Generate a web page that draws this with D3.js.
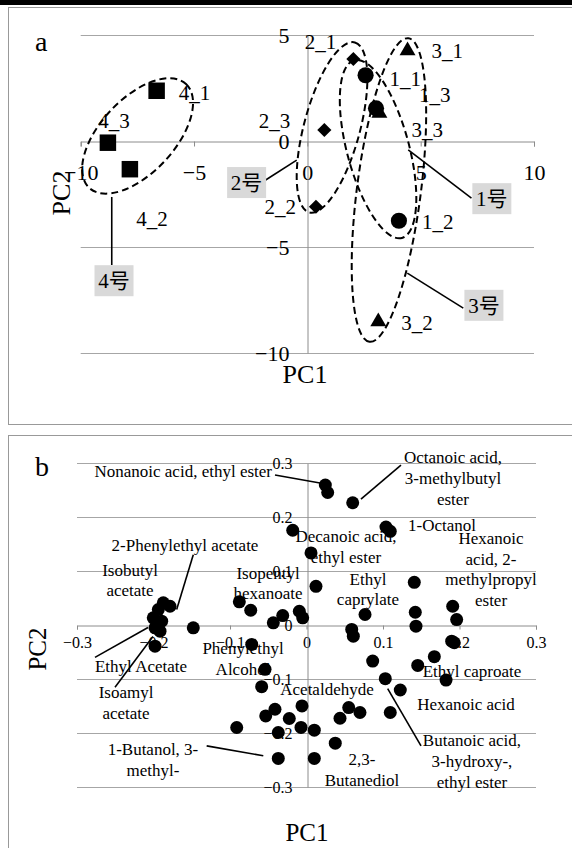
<!DOCTYPE html>
<html>
<head>
<meta charset="utf-8">
<script src="https://cdn.jsdelivr.net/npm/d3@7"></script>
<style>
    body { margin: 0; background: #fff; }
    svg text { font-family: "Liberation Serif", "Noto Sans CJK SC", serif; fill: #000; }
</style>
</head>
<body>
<svg id="chart" width="572" height="848"></svg>
<script>

// ---- panel a : sample scores ----
var sampleNames = ["1_1", "1_2", "1_3", "2_1", "2_2", "2_3", "3_1", "3_2", "3_3", "4_1", "4_2", "4_3"];
var samplePC1 = [2.57, 4.04, 3.03, 2.03, 0.38, 0.75, 4.42, 3.13, 3.18, -6.65, -7.83, -8.8];
var samplePC2 = [3.10, -3.76, 1.54, 3.87, -3.10, 0.52, 4.26, -8.52, 1.31, 2.37, -1.33, -0.08];
var sampleGroup = [1, 1, 1, 2, 2, 2, 3, 3, 3, 4, 4, 4];
var groupNames = ["1号", "2号", "3号", "4号"];
var scoreTicksX = [-10, -5, 0, 5, 10];
var scoreTicksY = [5, 0, -5, -10];

// ---- panel b : loadings ----
var loadPC1 = [0.0246, 0.0277, 0.0604, -0.0180, 0.1039, 0.1095, 0.0059, 0.0124, 0.1409, -0.0094,
    -0.0050, 0.0765, 0.1422, 0.1431, 0.1911, 0.1963, 0.0591, 0.0612, 0.1898, 0.1932,
    0.0865, 0.1454, 0.1671, 0.1030, 0.1226, 0.1824, -0.0059, -0.0225, 0.0552, 0.0699,
    0.0438, 0.1095, -0.0072, 0.0102, 0.0376, 0.0102, -0.1872, -0.1784, -0.1937, -0.2003,
    -0.1893, -0.1980, -0.1915, -0.1980, -0.1480, -0.0878, -0.0729, -0.0434, -0.0311, -0.0716,
    -0.0542, -0.0586, -0.0412, -0.0533, -0.0912, -0.0369, -0.0369];
var loadPC2 = [0.260, 0.246, 0.227, 0.176, 0.182, 0.174, 0.134, 0.072, 0.0795, 0.0259,
    0.0137, 0.0198, 0.0240, -0.0018, 0.0351, 0.0105, -0.0079, -0.0203, -0.0296, -0.0325,
    -0.0665, -0.0745, -0.0584, -0.0991, -0.1201, -0.1017, -0.1497, -0.1730, -0.1527, -0.1619,
    -0.1725, -0.1619, -0.1896, -0.1946, -0.2187, -0.2470, 0.0414, 0.0351, 0.0290, 0.0137,
    0.0074, -0.0048, -0.0111, -0.0388, -0.0048, 0.0433, 0.0277, 0.0044, 0.0179, -0.0357,
    -0.0819, -0.1139, -0.1558, -0.1682, -0.1897, -0.1989, -0.2470];
var loadTicks = [-0.3, -0.2, -0.1, 0, 0.1, 0.2, 0.3];
var compoundLabels = [
    ["Nonanoic acid, ethyl ester"],
    ["Octanoic acid,", "3-methylbutyl", "ester"],
    ["1-Octanol"],
    ["Decanoic acid,", "ethyl ester"],
    ["Hexanoic", "acid, 2-", "methylpropyl", "ester"],
    ["Ethyl", "caprylate"],
    ["2-Phenylethyl acetate"],
    ["Isobutyl", "acetate"],
    ["Isopentyl", "hexanoate"],
    ["Ethyl Acetate"],
    ["Isoamyl", "acetate"],
    ["Phenylethyl", "Alcohol"],
    ["1-Butanol, 3-", "methyl-"],
    ["Acetaldehyde"],
    ["Ethyl caproate"],
    ["Hexanoic acid"],
    ["Butanoic acid,", "3-hydroxy-,", "ethyl ester"],
    ["2,3-", "Butanediol"]
];

// ---- layout of annotations (not data) ----
// sample label offsets in px: [dx, dy, anchor]
var sampleLabelPos = [[24, 3, "start"], [23, 1, "start"], [43, -14, "start"], [-17, -17, "end"],
    [-20, 0, "end"], [-34, -9, "end"], [24, 0, "start"], [23, 1, "start"], [32, 16, "start"],
    [22, 2, "start"], [22, 49, "middle"], [6, -22, "middle"]];
// group ellipses: centre in data units, radii in px, rotation in degrees
var groupEllipses = [
    {cx: 3.12, cy: -0.38, rx: 92, ry: 31, angle: 75},
    {cx: 1.09, cy: 0.64, rx: 88, ry: 28, angle: -75},
    {cx: 3.60, cy: -2.31, rx: 153, ry: 32, angle: 97.3},
    {cx: -7.49, cy: 0.24, rx: 71, ry: 37, angle: -47}
];
// group callouts: line from ellipse to box, all in data units
var groupCallouts = [
    {from: [4.45, -0.42], to: [7.24, -2.69], box: [8.14, -2.72]},
    {from: [-0.47, -0.90], to: [-1.84, -1.84], box: [-2.68, -1.96]},
    {from: [4.41, -6.23], to: [6.88, -7.88], box: [7.79, -7.75]},
    {from: [-8.63, -2.64], to: [-8.63, -5.85], box: [-8.53, -6.59]}
];
// compound label anchors in data units: [x, y, anchor]
var compoundLabelPos = [[-0.0451, 0.286, "end"], [0.1915, 0.3118, "middle"], [0.1771, 0.186, "middle"],
    [0.0516, 0.1658, "middle"], [0.2412, 0.1621, "middle"], [0.0804, 0.0863, "middle"],
    [-0.1588, 0.1492, "middle"], [-0.2307, 0.103, "middle"], [-0.0503, 0.0974, "middle"],
    [-0.2163, -0.0763, "middle"], [-0.2359, -0.1244, "middle"], [-0.083, -0.0431, "middle"],
    [-0.2007, -0.2298, "middle"], [0.0268, -0.1188, "middle"], [0.2163, -0.0856, "middle"],
    [0.2085, -0.1466, "middle"], [0.2163, -0.2131, "middle"], [0.0725, -0.2482, "middle"]];
var compoundLeaders = [
    [[-0.0412, 0.2786], [0.0176, 0.2638]],
    [[0.0712, 0.2336], [0.1235, 0.2970]],
    [[-0.148, 0.1307], [-0.1697, 0.029]],
    [[-0.2765, -0.0597], [-0.2072, -0.0043]],
    [[-0.2503, -0.1152], [-0.2007, -0.0209]],
    [[-0.1305, -0.2237], [-0.0565, -0.2421]],
    [[0.1061, -0.1176], [0.1497, -0.2237]]
];

var gridColor = "#a6a6a6",
    axisColor = "#8c8c8c";

var svg = d3.select("#chart");

svg.append("rect")
    .attr("x", 0).attr("y", 0)
    .attr("width", 572).attr("height", 5)
    .attr("fill", "#000");

scoreChart();
loadingChart();

function crisp(v) {
    return Math.round(v) + 0.5;
}

function styleAxis(axisG, size) {
    axisG.attr("font-family", null).attr("font-size", null);
    axisG.selectAll("path, line").attr("stroke", axisColor);
    axisG.selectAll("text").style("font-size", size + "px");
}

function scoreChart() {
    var x = d3.scaleLinear().domain([-10, 10]).range([80.7, 534]),
        y = d3.scaleLinear().domain([-10, 5]).range([353, 35]);

    var g = svg.append("g");

    g.append("rect")
        .attr("x", 8.5).attr("y", 7.5)
        .attr("width", 600).attr("height", 417)
        .attr("fill", "none")
        .attr("stroke", "#999");

    g.selectAll(".grid")
        .data(scoreTicksY.filter(function (d) { return d !== 0; }))
        .enter().append("line")
        .attr("x1", x(-10)).attr("x2", x(10))
        .attr("y1", function (d) { return crisp(y(d)); })
        .attr("y2", function (d) { return crisp(y(d)); })
        .attr("stroke", gridColor);

    var xAxis = g.append("g")
        .attr("transform", "translate(0," + crisp(y(0)) + ")")
        .call(d3.axisBottom(x).tickValues(scoreTicksX).tickSize(5).tickFormat(d3.format("d")));
    styleAxis(xAxis, 22);
    xAxis.selectAll("text").attr("y", 31).attr("dy", "0.35em");

    var yAxis = g.append("g")
        .attr("transform", "translate(" + crisp(x(0)) + ",0)")
        .call(d3.axisLeft(y).tickValues(scoreTicksY).tickSize(0).tickSizeOuter(0)
            .tickPadding(18).tickFormat(d3.format("d")));
    styleAxis(yAxis, 22);

    // group ellipses
    g.selectAll(".ellipse")
        .data(groupEllipses)
        .enter().append("ellipse")
        .attr("transform", function (d) {
            return "translate(" + x(d.cx) + "," + y(d.cy) + ") rotate(" + d.angle + ")";
        })
        .attr("rx", function (d) { return d.rx; })
        .attr("ry", function (d) { return d.ry; })
        .attr("fill", "none")
        .attr("stroke", "#000")
        .attr("stroke-width", 2)
        .attr("stroke-dasharray", "7,4");

    // points
    var symbolType = {1: d3.symbolCircle, 2: d3.symbolSquare, 3: d3.symbolTriangle, 4: d3.symbolSquare},
        symbolSize = {1: 205, 2: 100, 3: 110, 4: 272},
        symbolRotate = {1: 0, 2: 45, 3: 0, 4: 0};

    var order = d3.range(sampleNames.length).sort(function (a, b) {
        return sampleGroup[b] - sampleGroup[a];
    });

    g.selectAll(".pt")
        .data(order)
        .enter().append("path")
        .attr("d", function (i) {
            return d3.symbol().type(symbolType[sampleGroup[i]]).size(symbolSize[sampleGroup[i]])();
        })
        .attr("transform", function (i) {
            return "translate(" + x(samplePC1[i]) + "," + y(samplePC2[i]) + ") rotate(" + symbolRotate[sampleGroup[i]] + ")";
        })
        .attr("fill", "#000");

    g.selectAll(".lbl")
        .data(d3.range(sampleNames.length))
        .enter().append("text")
        .attr("x", function (i) { return x(samplePC1[i]) + sampleLabelPos[i][0]; })
        .attr("y", function (i) { return y(samplePC2[i]) + sampleLabelPos[i][1]; })
        .attr("dy", "0.35em")
        .attr("text-anchor", function (i) { return sampleLabelPos[i][2]; })
        .style("font-size", "21px")
        .text(function (i) { return sampleNames[i]; });

    // callouts
    groupCallouts.forEach(function (c, i) {
        g.append("line")
            .attr("x1", x(c.from[0])).attr("y1", y(c.from[1]))
            .attr("x2", x(c.to[0])).attr("y2", y(c.to[1]))
            .attr("stroke", "#000")
            .attr("stroke-width", 1.6);
        var bx = x(c.box[0]), by = y(c.box[1]);
        g.append("rect")
            .attr("x", bx - 19.5).attr("y", by - 15.5)
            .attr("width", 39).attr("height", 31)
            .attr("fill", "#d9d9d9");
        g.append("text")
            .attr("x", bx).attr("y", by)
            .attr("dy", "0.35em")
            .attr("text-anchor", "middle")
            .style("font-size", "21px")
            .text(groupNames[i]);
    });

    g.append("text")
        .attr("x", 35).attr("y", 51)
        .style("font-size", "28px")
        .text("a");

    g.append("text")
        .attr("x", 305).attr("y", 374)
        .attr("dy", "0.35em")
        .attr("text-anchor", "middle")
        .style("font-size", "26px")
        .text("PC1");

    g.append("text")
        .attr("transform", "translate(61,193) rotate(-90)")
        .attr("dy", "0.35em")
        .attr("text-anchor", "middle")
        .style("font-size", "26px")
        .text("PC2");
}

function loadingChart() {
    var x = d3.scaleLinear().domain([-0.3, 0.3]).range([77, 536]),
        y = d3.scaleLinear().domain([-0.3, 0.3]).range([787, 463.4]);

    var fmt = function (d) { return d === 0 ? "0" : d3.format(".1f")(d); };

    var g = svg.append("g");

    g.append("rect")
        .attr("x", 8.5).attr("y", 435.5)
        .attr("width", 600).attr("height", 450)
        .attr("fill", "none")
        .attr("stroke", "#999");

    g.selectAll(".grid")
        .data(loadTicks.filter(function (d) { return d !== 0; }))
        .enter().append("line")
        .attr("x1", x(-0.3)).attr("x2", x(0.3))
        .attr("y1", function (d) { return crisp(y(d)); })
        .attr("y2", function (d) { return crisp(y(d)); })
        .attr("stroke", gridColor);

    var xAxis = g.append("g")
        .attr("transform", "translate(0," + crisp(y(0)) + ")")
        .call(d3.axisBottom(x).tickValues(loadTicks).tickSize(4).tickFormat(fmt));
    styleAxis(xAxis, 16);
    xAxis.selectAll("text").attr("y", 17).attr("dy", "0.35em");

    var yAxis = g.append("g")
        .attr("transform", "translate(" + crisp(x(0)) + ",0)")
        .call(d3.axisLeft(y).tickValues(loadTicks).tickSize(0).tickSizeOuter(0)
            .tickPadding(15).tickFormat(fmt));
    styleAxis(yAxis, 16);

    g.selectAll(".pt")
        .data(d3.range(loadPC1.length))
        .enter().append("circle")
        .attr("cx", function (i) { return x(loadPC1[i]); })
        .attr("cy", function (i) { return y(loadPC2[i]); })
        .attr("r", 6.5)
        .attr("fill", "#000");

    compoundLeaders.forEach(function (l) {
        g.append("line")
            .attr("x1", x(l[0][0])).attr("y1", y(l[0][1]))
            .attr("x2", x(l[1][0])).attr("y2", y(l[1][1]))
            .attr("stroke", "#000")
            .attr("stroke-width", 1.6);
    });

    compoundLabels.forEach(function (lines, i) {
        var p = compoundLabelPos[i];
        var t = g.append("text")
            .attr("text-anchor", p[2])
            .style("font-size", "17px");
        lines.forEach(function (s, k) {
            t.append("tspan")
                .attr("x", x(p[0]))
                .attr("y", y(p[1]) + k * 20.8)
                .attr("dy", "0.35em")
                .text(s);
        });
    });

    g.append("text")
        .attr("x", 35).attr("y", 476)
        .style("font-size", "28px")
        .text("b");

    g.append("text")
        .attr("x", 307).attr("y", 832)
        .attr("dy", "0.35em")
        .attr("text-anchor", "middle")
        .style("font-size", "25px")
        .text("PC1");

    g.append("text")
        .attr("transform", "translate(37,649) rotate(-90)")
        .attr("dy", "0.35em")
        .attr("text-anchor", "middle")
        .style("font-size", "25px")
        .text("PC2");
}

</script>
</body>
</html>
